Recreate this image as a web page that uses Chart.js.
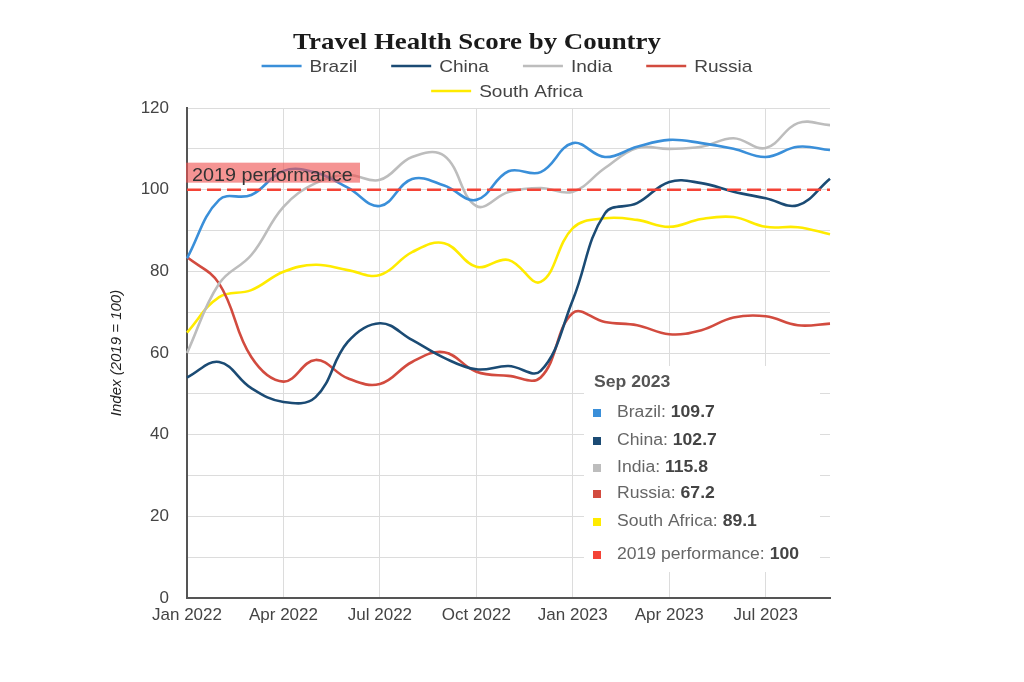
<!DOCTYPE html>
<html>
<head>
<meta charset="utf-8">
<script src="https://cdn.jsdelivr.net/npm/chart.js@4.4.0/dist/chart.umd.min.js"></script>
<style>
html,body{margin:0;padding:0;background:#fff;}
#wrap{width:1024px;height:682px;position:relative;}
</style>
</head>
<body>
<div id="wrap"><canvas id="c" width="1024" height="682"></canvas></div>
<script>
// ---- data ----
const months = ['Jan 2022','Feb 2022','Mar 2022','Apr 2022','May 2022','Jun 2022','Jul 2022','Aug 2022','Sep 2022','Oct 2022','Nov 2022','Dec 2022',
                'Jan 2023','Feb 2023','Mar 2023','Apr 2023','May 2023','Jun 2023','Jul 2023','Aug 2023','Sep 2023'];
const xTickLabels = ['Jan 2022','Apr 2022','Jul 2022','Oct 2022','Jan 2023','Apr 2023','Jul 2023'];
const yTickLabels = [0, 20, 40, 60, 80, 100, 120];
const seriesNames = ['Brazil','China','India','Russia','South Africa'];
const brazil      = [83.2, 97.5, 98.7, 104.6, 104.2, 100.5, 96.0, 102.6, 101.0, 97.5, 104.5, 104.3, 111.4, 108.0, 110.5, 112.2, 111.4, 110.0, 108.0, 110.5, 109.7];
const china       = [54.0, 57.8, 51.4, 48.0, 49.2, 62.7, 67.3, 63.2, 58.8, 56.0, 56.8, 55.6, 73.0, 94.2, 96.7, 101.9, 101.6, 99.5, 97.9, 96.2, 102.7];
const india       = [60.0, 77.0, 84.0, 95.8, 101.6, 103.6, 102.4, 108.0, 108.3, 96.0, 99.4, 100.4, 99.5, 105.3, 110.2, 110.0, 110.5, 112.6, 110.2, 116.3, 115.8];
const russia      = [83.5, 77.0, 59.0, 53.0, 58.3, 53.8, 52.4, 57.8, 60.2, 55.4, 54.4, 54.0, 69.8, 67.6, 66.8, 64.6, 65.6, 68.7, 69.0, 66.8, 67.2];
const southAfrica = [65.0, 73.7, 75.4, 79.9, 81.6, 80.3, 79.1, 84.7, 86.9, 81.1, 82.8, 77.4, 90.6, 93.0, 92.6, 90.9, 92.8, 93.3, 90.9, 90.8, 89.1];
const perf2019    = [100,100,100,100,100,100,100,100,100,100,100,100,100,100,100,100,100,100,100,100,100];
const perfName = '2019 performance';
const chartTitle = 'Travel Health Score by Country';
const yTitle = 'Index (2019 = 100)';

const colors = ['#3a8fd9', '#1b4b74', '#bdbdbd', '#d24b3f', '#ffeb00'];
const perfColor = '#f44336';
const FONT = '"Liberation Sans", Arial, sans-serif';

function sText(ctx, text, x, y, sx, align) {
  ctx.save();
  ctx.translate(x, y);
  ctx.scale(sx, 1);
  ctx.textAlign = align || 'left';
  ctx.fillText(text, 0, 0);
  ctx.restore();
}

const decor = {
  id: 'decor',
  afterDatasetsDraw(chart) {
    const ctx = chart.ctx;
    const ys = chart.scales.y;
    const yv = ys.getPixelForValue(perf2019[0]);
    ctx.save();
    ctx.fillStyle = 'rgba(239,83,80,0.62)';
    ctx.fillRect(chart.chartArea.left - 1, yv - 27, 174, 20);
    ctx.fillStyle = '#333';
    ctx.font = '18px ' + FONT;
    ctx.textBaseline = 'alphabetic';
    sText(ctx, perfName, chart.chartArea.left + 5, yv - 9, 1.1);
    ctx.restore();
  },
  afterDraw(chart) {
    const ctx = chart.ctx;
    ctx.save();
    // title
    ctx.fillStyle = '#1a1a1a';
    ctx.font = 'bold 24px "Liberation Serif", "Times New Roman", serif';
    ctx.textBaseline = 'alphabetic';
    sText(ctx, chartTitle, 477, 49, 1.12, 'center');

    // legend
    const sx = 1.12;
    ctx.font = '17px ' + FONT;
    ctx.textBaseline = 'middle';
    const rows = [[0,1,2,3],[4]];
    const rowY = [66, 91];
    const lineW = 40, gapT = 8, gapI = 34, cx = 507;
    rows.forEach((row, r) => {
      const widths = row.map(i => lineW + gapT + ctx.measureText(seriesNames[i]).width * sx);
      const total = widths.reduce((a, b) => a + b, 0) + gapI * (row.length - 1);
      let x = cx - total / 2;
      row.forEach((i, k) => {
        ctx.strokeStyle = colors[i];
        ctx.lineWidth = 2.5;
        ctx.beginPath();
        ctx.moveTo(x, rowY[r]);
        ctx.lineTo(x + lineW, rowY[r]);
        ctx.stroke();
        ctx.fillStyle = '#444';
        sText(ctx, seriesNames[i], x + lineW + gapT, rowY[r] + 1, sx);
        x += widths[k] + gapI;
      });
    });

    // static tooltip for the last month
    const last = months.length - 1;
    const bx = 584, by = 366, bw = 236, bh = 206;
    ctx.fillStyle = '#fff';
    ctx.fillRect(bx, by, bw, bh);
    ctx.textBaseline = 'middle';
    ctx.fillStyle = '#555';
    ctx.font = 'bold 16px ' + FONT;
    sText(ctx, months[last], 594, 383, 1.1);
    const itemY = [413, 441, 468, 494, 522, 555];
    const items = chart.data.datasets.map(ds => ({label: ds.label, value: ds.data[last], color: ds.borderColor}));
    // order: countries, then 2019 performance
    const ordered = items.filter(it => it.label !== perfName).concat(items.filter(it => it.label === perfName));
    ordered.forEach((it, k) => {
      const y = itemY[k];
      ctx.fillStyle = it.color;
      ctx.fillRect(593, y - 4, 8, 8);
      ctx.font = '16px ' + FONT;
      ctx.fillStyle = '#666';
      const lab = it.label + ': ';
      sText(ctx, lab, 617, y, 1.1);
      const w = ctx.measureText(lab).width * 1.1;
      ctx.font = 'bold 16px ' + FONT;
      ctx.fillStyle = '#444';
      sText(ctx, String(it.value), 617 + w, y, 1.1);
    });
    ctx.restore();
  }
};

const seriesData = [brazil, china, india, russia, southAfrica];
const datasets = [{
  label: perfName, data: perf2019, borderColor: perfColor, backgroundColor: perfColor,
  borderWidth: 2.5, borderDash: [14, 6], pointRadius: 0, tension: 0, order: 0
}].concat(seriesData.map((d, i) => ({
  label: seriesNames[i], data: d, borderColor: colors[i], backgroundColor: colors[i],
  borderWidth: 2.6, pointRadius: 0, tension: 0.4, order: i + 1
})));

new Chart(document.getElementById('c'), {
  type: 'line',
  data: { labels: months, datasets },
  options: {
    responsive: false,
    animation: false,
    events: [],
    layout: { padding: { left: 100, right: 194, top: 108, bottom: 44 } },
    plugins: { legend: { display: false }, title: { display: false }, tooltip: { enabled: false } },
    scales: {
      x: {
        type: 'category',
        offset: false,
        afterFit: s => { s.height = 40; },
        grid: {
          drawTicks: false,
          lineWidth: 1,
          color: c => (c.tick && xTickLabels.includes(months[c.index])) ? '#dcdcdc' : 'rgba(0,0,0,0)'
        },
        border: { color: '#555', width: 2 },
        ticks: {
          autoSkip: false, maxRotation: 0, minRotation: 0, padding: 7,
          color: '#444', font: { family: FONT, size: 17 },
          callback: (v, i) => xTickLabels.includes(months[i]) ? months[i] : ''
        }
      },
      y: {
        min: yTickLabels[0], max: yTickLabels[yTickLabels.length - 1],
        afterFit: s => { s.width = 87; },
        grid: { drawTicks: false, color: '#dcdcdc', lineWidth: 1 },
        border: { color: '#555', width: 2 },
        ticks: {
          stepSize: 10, padding: 18, color: '#444', font: { family: FONT, size: 17 },
          callback: v => yTickLabels.includes(v) ? String(v) : ''
        },
        title: {
          display: true, text: yTitle, color: '#222',
          font: { family: FONT, size: 15, style: 'italic' },
          padding: { top: 8, bottom: 0 }
        }
      }
    }
  },
  plugins: [decor]
});
</script>
</body>
</html>
